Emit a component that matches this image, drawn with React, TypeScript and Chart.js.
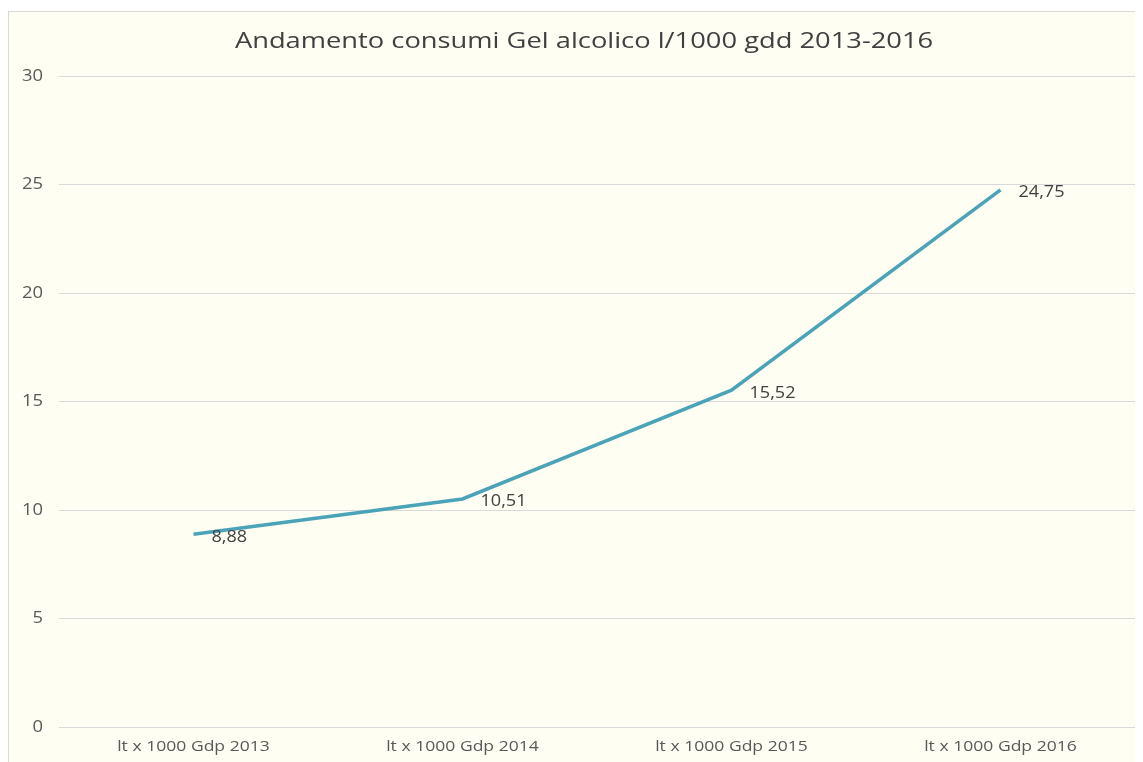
import React, { useEffect, useRef } from "react";
import { Chart, registerables } from "chart.js";

Chart.register(...registerables);

const categories = ["lt x 1000 Gdp 2013", "lt x 1000 Gdp 2014", "lt x 1000 Gdp 2015", "lt x 1000 Gdp 2016"];
const values = [8.88, 10.51, 15.52, 24.75];
const valueLabels = ["8,88", "10,51", "15,52", "24,75"];
const yTicks = [0, 5, 10, 15, 20, 25, 30];
const titleText = "Andamento consumi Gel alcolico l/1000 gdd 2013-2016";

const FONT = "'Open Sans', sans-serif";

function drawStretched(ctx: CanvasRenderingContext2D, text: string, x: number, y: number, align: CanvasTextAlign, sx: number) {
  ctx.save();
  ctx.translate(x, y);
  ctx.scale(sx, 1);
  ctx.textAlign = align;
  ctx.textBaseline = "middle";
  ctx.fillText(text, 0, 0);
  ctx.restore();
}

const textPlugin = {
  id: "stretchedTexts",
  afterDraw(chart: any) {
    const ctx: CanvasRenderingContext2D = chart.ctx;
    const xs = chart.scales.x;
    const ys = chart.scales.y;
    ctx.save();
    // title
    ctx.font = `21px ${FONT}`;
    ctx.fillStyle = "#404040";
    drawStretched(ctx, titleText, chart.width / 2, 30, "center", 1.3);
    // y tick labels
    ctx.font = `16px ${FONT}`;
    ctx.fillStyle = "#595959";
    yTicks.forEach((v) => {
      drawStretched(ctx, String(v), 34, ys.getPixelForValue(v), "right", 1.15);
    });
    // x tick labels
    ctx.font = `15px ${FONT}`;
    categories.forEach((c, i) => {
      drawStretched(ctx, c, xs.getPixelForValue(i), ys.bottom + 20, "center", 1.17);
    });
    // data labels
    const meta = chart.getDatasetMeta(0);
    ctx.font = `16px ${FONT}`;
    ctx.fillStyle = "#404040";
    meta.data.forEach((pt: any, i: number) => {
      drawStretched(ctx, valueLabels[i], pt.x + 18, pt.y + 3, "left", 1.13);
    });
    ctx.restore();
  },
};

export default function App() {
  const ref = useRef<HTMLCanvasElement | null>(null);
  useEffect(() => {
    if (!ref.current) return;
    const chart = new Chart(ref.current, {
      type: "line",
      data: {
        labels: categories,
        datasets: [
          {
            data: values,
            borderColor: "#4BA3B8",
            borderWidth: 3.5,
            pointRadius: 0,
            tension: 0,
            fill: false,
          },
        ],
      },
      options: {
        animation: false,
        responsive: true,
        maintainAspectRatio: false,
        layout: { padding: { left: 0, right: 24, top: 64, bottom: 15 } },
        plugins: {
          legend: { display: false },
          tooltip: { enabled: false },
          title: { display: false },
        },
        scales: {
          x: {
            offset: true,
            grid: { display: false, drawTicks: false },
            border: { display: false },
            ticks: { display: false },
            afterFit(scale: any) {
              scale.height = 40;
            },
          },
          y: {
            min: 0,
            max: 30,
            afterBuildTicks(scale: any) {
              scale.ticks = yTicks.map((v) => ({ value: v }));
            },
            grid: { color: "#D9D9D9", drawTicks: false, lineWidth: 1 },
            border: { display: false },
            ticks: { display: false },
            afterFit(scale: any) {
              scale.width = 50;
            },
          },
        },
      },
      plugins: [textPlugin],
    });
    return () => chart.destroy();
  }, []);

  return (
    <div
      style={{
        marginTop: 3,
        width: 1150,
        height: 770,
        border: "1px solid #D9D9D9",
        background: "#FEFEF2",
        position: "relative",
      }}
    >
      <canvas ref={ref} />
    </div>
  );
}
